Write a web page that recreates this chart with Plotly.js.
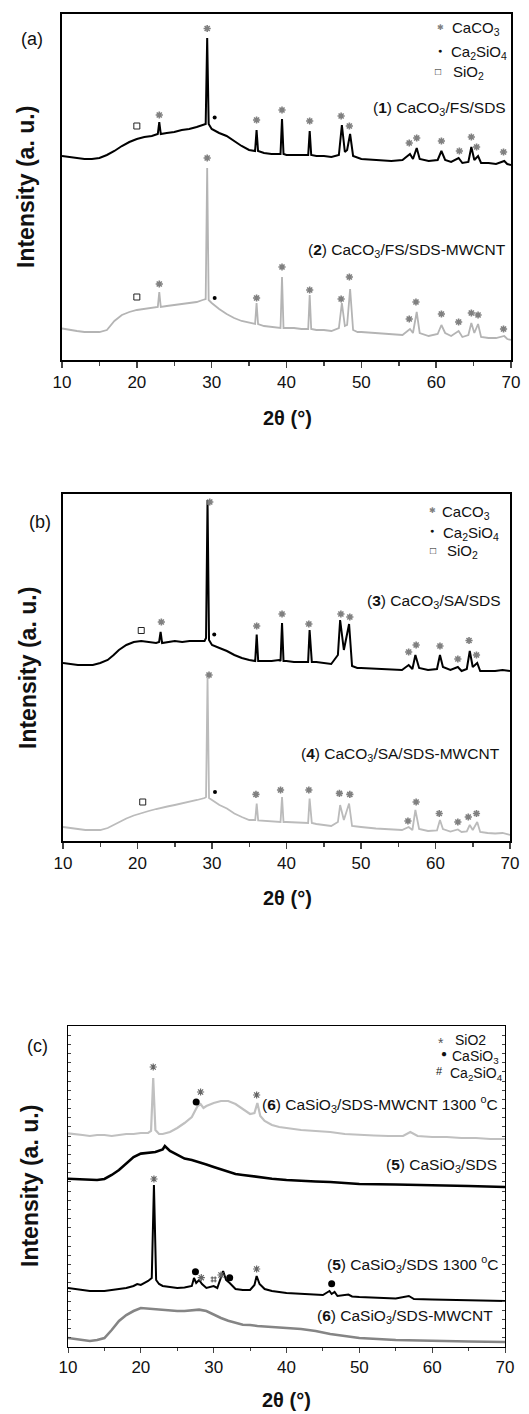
<!DOCTYPE html>
<html><head><meta charset="utf-8">
<script src="https://cdn.plot.ly/plotly-3.0.1.min.js"></script>
<style>html,body{margin:0;padding:0;background:#fff}#chart{width:529px;height:1414px}</style>
</head><body><div id="chart"></div>
<script>
// ---------- Panel (a): 2θ grid and intensities (a.u., offset stacked) ----------
const a_x = [10,11,12,13,14,15,16,17,18,19,20,21,22,22.8,23.0,23.2,24,25,26,27,28,28.8,29.2,29.4,29.6,30,30.5,31,32,33,34,35,35.8,36.0,36.2,37,38,39.2,39.4,39.6,40,41,42,42.9,43.1,43.3,44,45,46,47.0,47.4,47.8,48.1,48.5,48.9,49.5,50,52,54,55.5,56.5,56.9,57.4,57.8,59,60.2,60.7,61.2,62,63.0,63.5,64.3,64.7,65.1,65.6,66,67,68,69.1,69.5,70];
const a1_y = [204,203,202,201,201,202,205,209,214,218,221,223,224,226,238,226,227,228,230,231,233,235,236,322,236,231,229,227,224,219,214,210,209,230,209,207,206,206,241,206,205,205,205,205,229,205,204,204,203,205,235,208,210,226,204,202,201,200,199,200,206,201,212,201,199,200,209,200,198,202,197,198,213,200,204,197,197,196,199,196,195];
const a2_y = [31.5,30,29,28,28,28,30,39,45,48,50,51,52,53,68,53,54,55,56,57,58,60,61,192,60,57,54,51,46,42,39,37,36,57,36,34,33,32,83,32,32,32,31,31,65,31,30,30,29,32,57,34,35,71,30,28,28,27,26,25,31,27,48,27,24,26,35,27,24,29,23,25,37,27,36,23,22,22,24,21,20];
// peak labels (a)
const a1_caco3_x = [23.0,29.4,36.0,39.4,43.1,47.3,48.4,56.4,57.4,60.7,63.1,64.7,65.4,69.0];
const a1_caco3_y = [245,331.5,240,250,239,244,234,217,222,219,209,223,213,208];
const a1_c2s_x = [30.4], a1_c2s_y = [242.5];
const a1_sio2_x = [20.0], a1_sio2_y = [234];
const a2_caco3_x = [23.0,29.4,36.0,39.4,43.1,47.3,48.4,56.4,57.3,60.7,63.0,64.7,65.6,69.0];
const a2_caco3_y = [76,202,62,93,70,61,83,41,58,46,38,47,45,31];
const a2_c2s_x = [30.4], a2_c2s_y = [62];
const a2_sio2_x = [20.0], a2_sio2_y = [63];

// ---------- Panel (b) ----------
const b_x = [10,11,12,13,14,15,16,16.8,17.5,18.5,19.5,20.5,21.5,22.5,22.9,23.1,23.3,24,25,26,27,28,29.0,29.2,29.4,29.6,30,31,32,33,34,35,35.8,36.0,36.2,37,38,39.0,39.2,39.4,39.6,40,41,42,42.9,43.1,43.4,44,45,46,46.9,47.2,47.7,48.4,48.8,49.5,50,52,54,55.5,56.4,56.9,57.3,57.8,59,60.2,60.6,61.0,62,63.0,63.5,64.2,64.6,65.0,65.6,66,67,68,69,70];
const b3_y = [178,177,176,176,176,178,181,186,191,196,199,200,199,198,199,209,198,199,200,199,200,200,200,203,341,201,196,193,190,186,183,181,180,206.5,180,180,180,181,180,218,180,180,179,179,179,211,179,179,178,177,186,221,191,217,175,173,173,172,171,171,176,172,186,173,171,172,186,174,171,174,170,172,190,174,178,170,170,170,171,170];
const b4_y = [14,13,12,11,11,11,13,16,19,22.5,25.5,28,30,32,32.5,33,33,34.5,36,37.5,39,41,43,44,163,43,41,36,32.5,27.5,24,21,21,37.5,20.5,20,19,19,19,44,19,19,18.5,18,18,42.5,18,17,16,15,19,36,21,37.5,15,14,14,12.5,11.5,11,14,11,31,12,10,10.5,21,12,9.5,11.5,9,9.5,16,11,19,9,8,7.5,8,6];
const b3_caco3_x = [23.2,29.7,36.0,39.4,43.0,47.3,48.5,56.4,57.4,60.6,63.0,64.5,65.5];
const b3_caco3_y = [219,339,215,227,217,227,224,189,196,195,182,200.5,186];
const b3_c2s_x = [30.3], b3_c2s_y = [206.5];
const b3_sio2_x = [20.5], b3_sio2_y = [210.5];
const b4_caco3_x = [29.6,35.9,39.2,43.0,47.1,48.5,56.3,57.4,60.5,63.0,64.4,65.5];
const b4_caco3_y = [166,46.6,51,51,47.6,46.6,20,39,27.5,19,24,27.5];
const b4_c2s_x = [30.4], b4_c2s_y = [49];
const b4_sio2_x = [20.7], b4_sio2_y = [39];

// ---------- Panel (c) ----------
const c6h_x = [10,11,12,13,14,15,16,17,18,19,20,21,21.4,21.7,22.0,22.5,23,24,25,26,27,27.5,27.8,28.2,28.6,29,30,31,32,33,34,35,35.6,36.0,36.4,37,38,39,40,42,44,46,48,50,52,54,56,57,58,60,62,64,66,68,70];
const c6h_y = [213.6,213,212,211,212,212,211,212,213,213,214,214,216,269,217,213,213,215,219,224,230,237,241,243,239,241,244,246,246,243,238,233,234,244,231,226,222,220,219,217,216,215,213,212,211.5,211,211,215,211,210,210,209,209,208,208];
const c5_x = [10,11,12,13,14,15,16,17,18,19,20,21,22,23,23.3,24,25,26,27,28,29,30,31,32,33,34,35,36,38,40,42,44,46,48,50,55,60,65,70];
const c5_y = [168.3,168,167,167,167,168,172,177,183.4,190,193.4,194,195,197.5,201,196,192,188.4,187,185,182.5,180,177.5,175,173,172,171,170,168.3,167,166,165.5,165,164,163,162.5,162,161,160];
const c5h_x = [10,11,12,13,14,15,16,17,18,19,19.5,20,20.5,21.0,21.5,21.8,22.1,22.5,23,24,25,26,27,27.3,27.6,28.0,28.4,29,30,30.5,31.0,31.3,31.7,32.2,33,34,35,35.6,35.9,36.3,37,38,40,42,44,45,45.9,46.2,46.6,47,48.5,49,50,52,55,56.8,57.5,60,65,70];
const c5h_y = [59,58,57,56,56,56,57,58,59,61,63,62,64,66,69,162,67,63,61,60,59,59.5,61,69,64,67,63,59,61,59,71,76,67,64,58,57,57,62,71,63,58,56,54,53,52.5,52,56,53,55,51,52.5,50.5,50,49.5,48.5,51,48,47.5,47,46];
const c6_x = [10,11,12,13,14,15,16,17,18,19,20,21,22,23,24,25,26,27,28,29,30,31,32,33,34,35,36,38,40,42,44,46,48,50,55,60,65,70];
const c6_y = [9,8,7,6,7,9,17,26,32,36,39,38.4,37.4,37,36,36,36,36.4,37.4,36,32.4,29,26.3,24,22.3,22,21,20,19,18,16,13,11,9,7,6,5.5,5];
const c6h_sio2_x = [21.7,28.2,35.9], c6h_sio2_y = [280,255,252];
const c6h_cs_x = [27.6], c6h_cs_y = [245];
const c5h_sio2_x = [21.8,28.3,31.0,35.9], c5h_sio2_y = [168,69.3,72,78];
const c5h_cs_x = [27.5,32.2,46.2], c5h_cs_y = [75.3,69.3,63.2];
const c5h_c2s_x = [30.0], c5h_c2s_y = [67.6];

const xTicks = [10,20,30,40,50,60,70];

// ---------- build ----------
const FONT = 'Liberation Sans, Arial, sans-serif';
const W = 529, H = 1414;
const px = v => v / W, py = v => 1 - v / H;

function line(x, y, color, width, xa, ya) {
  return {x, y, type:'scatter', mode:'lines', line:{color, width}, xaxis:xa, yaxis:ya, hoverinfo:'skip', showlegend:false};
}
function mk(x, y, symbol, size, color, lw, xa, ya, fill) {
  return {x, y, type:'scatter', mode:'markers', xaxis:xa, yaxis:ya, hoverinfo:'skip', showlegend:false,
    marker:{symbol, size, color: fill || color, line:{color, width:lw}}};
}
const STAR = '#808080';
const traces = [
  line(a_x, a1_y, '#000', 2.0, 'x', 'y'),
  line(a_x, a2_y, '#b4b4b4', 1.8, 'x', 'y'),
  mk(a1_caco3_x, a1_caco3_y, 'asterisk-open', 6, STAR, 1.6, 'x', 'y'),
  mk(a1_c2s_x, a1_c2s_y, 'circle', 4, '#000', 0, 'x', 'y'),
  mk(a1_sio2_x, a1_sio2_y, 'square-open', 6, '#222', 1, 'x', 'y'),
  mk(a2_caco3_x, a2_caco3_y, 'asterisk-open', 6, STAR, 1.6, 'x', 'y'),
  mk(a2_c2s_x, a2_c2s_y, 'circle', 4, '#000', 0, 'x', 'y'),
  mk(a2_sio2_x, a2_sio2_y, 'square-open', 6, '#222', 1, 'x', 'y'),

  line(b_x, b3_y, '#000', 2.0, 'x2', 'y2'),
  line(b_x, b4_y, '#bbbbbb', 1.8, 'x2', 'y2'),
  mk(b3_caco3_x, b3_caco3_y, 'asterisk-open', 6, STAR, 1.6, 'x2', 'y2'),
  mk(b3_c2s_x, b3_c2s_y, 'circle', 4, '#000', 0, 'x2', 'y2'),
  mk(b3_sio2_x, b3_sio2_y, 'square-open', 6, '#222', 1, 'x2', 'y2'),
  mk(b4_caco3_x, b4_caco3_y, 'asterisk-open', 6, STAR, 1.6, 'x2', 'y2'),
  mk(b4_c2s_x, b4_c2s_y, 'circle', 4, '#000', 0, 'x2', 'y2'),
  mk(b4_sio2_x, b4_sio2_y, 'square-open', 6, '#222', 1, 'x2', 'y2'),

  line(c6h_x, c6h_y, '#c0c0c0', 2.2, 'x3', 'y3'),
  line(c5_x, c5_y, '#000', 2.6, 'x3', 'y3'),
  line(c5h_x, c5h_y, '#000', 2.0, 'x3', 'y3'),
  line(c6_x, c6_y, '#858585', 2.6, 'x3', 'y3'),
  mk(c6h_sio2_x, c6h_sio2_y, 'asterisk-open', 6, '#666', 1.2, 'x3', 'y3'),
  mk(c6h_cs_x, c6h_cs_y, 'circle', 7, '#000', 0, 'x3', 'y3'),
  mk(c5h_sio2_x, c5h_sio2_y, 'asterisk-open', 6, '#666', 1.2, 'x3', 'y3'),
  mk(c5h_cs_x, c5h_cs_y, 'circle', 7, '#000', 0, 'x3', 'y3'),
  mk(c5h_c2s_x, c5h_c2s_y, 'hash-open', 6, '#555', 1, 'x3', 'y3')
];

function xax(l, r, lw, tl, ml, anchor) {
  return {domain:[px(l), px(r)], range:[10,70], anchor, tickvals:xTicks, ticks:'outside', ticklen:tl, tickwidth:lw>1?1.5:1,
    minor:{dtick:5, tick0:10, ticks:'outside', ticklen:ml, tickwidth:lw>1?1.5:1, showgrid:false},
    showline:true, linewidth:lw, linecolor:'#000', mirror:true, showgrid:false, zeroline:false,
    tickfont:{family:FONT, size:17, color:'#111'}, fixedrange:true};
}
function yax(top, bot, hr, lw, anchor) {
  return {domain:[py(bot), py(top)], range:[0,hr], anchor, showticklabels:false, ticks:'', showline:true, linewidth:lw,
    linecolor:'#000', mirror:true, showgrid:false, zeroline:false, fixedrange:true};
}

const layout = {
  width:W, height:H, margin:{l:0,r:0,t:0,b:0}, paper_bgcolor:'#fff', plot_bgcolor:'#fff', showlegend:false,
  font:{family:FONT, color:'#111'},
  xaxis: xax(62, 511, 2, 6, 4, 'y'),
  yaxis: yax(14, 360, 346, 2, 'x'),
  xaxis2: xax(63, 510, 2, 6, 4, 'y2'),
  yaxis2: yax(494, 841, 347, 2, 'x2'),
  xaxis3: xax(68, 505, 1, 5, 3, 'y3'),
  yaxis3: Object.assign(yax(1026, 1347, 321, 1, 'x3'), {ticks:'inside', ticklen:3, tickwidth:1, dtick:321/35, tick0:0, mirror:'ticks'}),
  xaxis4: {domain:[px(68), px(505)], range:[10,70], anchor:'y3', overlaying:'x3', side:'top', dtick:5, tick0:10,
    ticks:'inside', ticklen:4, tickwidth:1, showticklabels:false, showline:false, showgrid:false, zeroline:false, fixedrange:true},
  annotations: []
};

function ann(text, x, y, size, xanchor, opts) {
  return Object.assign({text, x:px(x), y:py(y), xref:'paper', yref:'paper', showarrow:false, xanchor:xanchor||'center',
    yanchor:'middle', font:{family:FONT, size, color:'#111'}}, opts||{});
}
const A = layout.annotations;
// panel letters
A.push(ann('(a)', 32, 39, 18), ann('(b)', 40, 522, 18), ann('(c)', 37, 1046, 18));
// axis titles
[[26,187],[28,668],[30,1186]].forEach(p => A.push(ann('<b>Intensity (a. u.)</b>', p[0], p[1], 23, 'center', {textangle:-90})));
[[287,418],[287,898],[286,1400]].forEach(p => A.push(ann('<b>2θ (°)</b>', p[0], p[1], 20)));
// series labels
A.push(ann('(<b>1</b>) CaCO<sub>3</sub>/FS/SDS', 508, 109, 15.5, 'right'));
A.push(ann('(<b>2</b>) CaCO<sub>3</sub>/FS/SDS-MWCNT', 508, 250, 15.5, 'right'));
A.push(ann('(<b>3</b>) CaCO<sub>3</sub>/SA/SDS', 503, 601, 15.5, 'right'));
A.push(ann('(<b>4</b>) CaCO<sub>3</sub>/SA/SDS-MWCNT', 502, 755, 15.5, 'right'));
A.push(ann('(<b>6</b>) CaSiO<sub>3</sub>/SDS-MWCNT 1300 <sup>o</sup>C', 500, 1104, 15.5, 'right'));
A.push(ann('(<b>5</b>) CaSiO<sub>3</sub>/SDS', 499, 1165, 15.5, 'right'));
A.push(ann('(<b>5</b>) CaSiO<sub>3</sub>/SDS 1300 <sup>o</sup>C', 500, 1264, 15.5, 'right'));
A.push(ann('(<b>6</b>) CaSiO<sub>3</sub>/SDS-MWCNT', 495, 1316, 15.5, 'right'));
// legends (a)
const SG = "<span style='color:#808080'>✱</span>";
A.push(ann(SG, 440, 27, 8), ann('CaCO<sub>3</sub>', 450, 29, 15, 'left'));
A.push(ann('●', 440, 50, 7), ann('Ca<sub>2</sub>SiO<sub>4</sub>', 449, 52, 15, 'left'));
A.push(ann('□', 438, 71, 10), ann('SiO<sub>2</sub>', 451, 73, 15, 'left'));
// legends (b)
A.push(ann(SG, 432, 510, 8), ann('CaCO<sub>3</sub>', 440, 512, 15, 'left'));
A.push(ann('●', 432, 531, 7), ann('Ca<sub>2</sub>SiO<sub>4</sub>', 441, 533, 15, 'left'));
A.push(ann('□', 433, 550, 10), ann('SiO<sub>2</sub>', 445, 552, 15, 'left'));
// legends (c)
A.push(ann("<span style='color:#555'>*</span>", 441, 1043, 14), ann('SiO2', 453, 1040, 14, 'left'));
A.push(ann('●', 444, 1053, 10), ann('CaSiO<sub>3</sub>', 450, 1057, 14, 'left'));
A.push(ann('#', 439, 1071, 11), ann('Ca<sub>2</sub>SiO<sub>4</sub>', 448, 1074, 14, 'left'));

Plotly.newPlot('chart', traces, layout, {staticPlot:true, displayModeBar:false});
</script></body></html>
